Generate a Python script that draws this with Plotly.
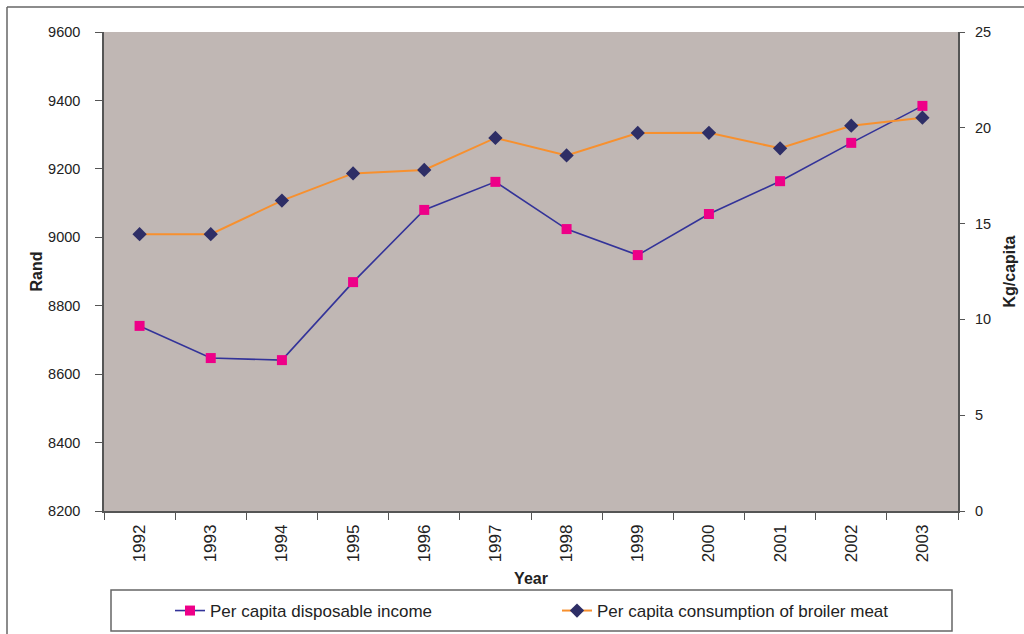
import plotly.graph_objects as go

# Annual series, 1992-2003
years = ["1992", "1993", "1994", "1995", "1996", "1997",
         "1998", "1999", "2000", "2001", "2002", "2003"]
income_rand = [8741, 8647, 8641, 8869, 9080, 9162,
               9024, 8948, 9068, 9164, 9276, 9384]
broiler_kg = [14.45, 14.45, 16.2, 17.62, 17.8, 19.47,
              18.56, 19.73, 19.74, 18.93, 20.11, 20.53]

FONT = "Liberation Sans, Arial, sans-serif"
AXIS_COL = "#555555"
TEXT_COL = "#222222"

# page geometry (pixels) used to place the frame and legend box
W, H = 1024, 634
L, R, T, B = 104, 958, 32, 511


def px_x(p):
    return (p - L) / (R - L)


def px_y(p):
    return (B - p) / (B - T)


fig = go.Figure()

fig.add_trace(go.Scatter(
    x=years, y=income_rand, name="Per capita disposable income",
    mode="lines+markers",
    line=dict(color="#333399", width=1.6),
    marker=dict(symbol="square", size=10, color="#EE0088",
                line=dict(width=0)),
    yaxis="y",
))

fig.add_trace(go.Scatter(
    x=years, y=broiler_kg, name="Per capita consumption of broiler meat",
    mode="lines+markers",
    line=dict(color="#F7902E", width=2),
    marker=dict(symbol="diamond", size=11, color="#2E2E66",
                line=dict(width=0)),
    yaxis="y2",
))

fig.update_layout(
    width=W, height=H,
    margin=dict(l=L, r=W - R, t=T, b=H - B, autoexpand=False),
    paper_bgcolor="white",
    plot_bgcolor="#C0B7B4",
    font=dict(family=FONT, color=TEXT_COL),
    showlegend=True,
    legend=dict(
        orientation="h",
        xref="container", yref="container",
        x=170 / W, y=1 - 611 / H, xanchor="left", yanchor="middle",
        font=dict(family=FONT, size=17, color=TEXT_COL),
        bgcolor="rgba(0,0,0,0)", borderwidth=0,
        entrywidth=342, entrywidthmode="pixels",
        itemclick=False,
    ),
    xaxis=dict(
        type="category", range=[-0.5, 11.5], automargin=False,
        tickson="boundaries", ticks="outside", ticklen=7,
        tickcolor=AXIS_COL, tickwidth=1,
        tickangle=-90, tickfont=dict(size=17, color=TEXT_COL),
        ticklabelstandoff=5,
        showline=True, linecolor=AXIS_COL, linewidth=1.5,
        showgrid=False, zeroline=False,
        title=dict(text="<b>Year</b>", font=dict(size=16, color=TEXT_COL),
                   standoff=11),
    ),
    yaxis=dict(
        range=[8200, 9600], dtick=200, tick0=8200, automargin=False,
        ticks="outside", ticklen=7, tickcolor=AXIS_COL, tickwidth=1,
        tickfont=dict(size=14.5, color=TEXT_COL),
        ticklabelstandoff=12,
        showline=True, linecolor=AXIS_COL, linewidth=1.5,
        showgrid=False, zeroline=False,
        title=dict(text="<b>Rand</b>", font=dict(size=16, color=TEXT_COL),
                   standoff=1),
    ),
    yaxis2=dict(
        overlaying="y", side="right", automargin=False,
        range=[0, 25], dtick=5, tick0=0,
        ticks="outside", ticklen=5, tickcolor=AXIS_COL, tickwidth=1,
        tickfont=dict(size=14.5, color=TEXT_COL),
        tickprefix="\u2002",
        showline=True, linecolor=AXIS_COL, linewidth=1.5,
        showgrid=False, zeroline=False,
        title=dict(text="<b>Kg/capita</b>", font=dict(size=16, color=TEXT_COL),
                   standoff=14),
    ),
    shapes=[
        # outer chart frame (top and left edges)
        dict(type="line", xref="paper", yref="paper",
             x0=px_x(7), x1=px_x(W + 5), y0=px_y(7), y1=px_y(7),
             line=dict(color="#666666", width=1.5)),
        dict(type="line", xref="paper", yref="paper",
             x0=px_x(7), x1=px_x(7), y0=px_y(7), y1=px_y(H + 5),
             line=dict(color="#666666", width=1.5)),
        # legend box
        dict(type="rect", xref="paper", yref="paper",
             x0=px_x(111), x1=px_x(952), y0=px_y(631), y1=px_y(590),
             line=dict(color="#666666", width=1.5),
             fillcolor="rgba(0,0,0,0)"),
    ],
)

fig.write_html("out.html")
